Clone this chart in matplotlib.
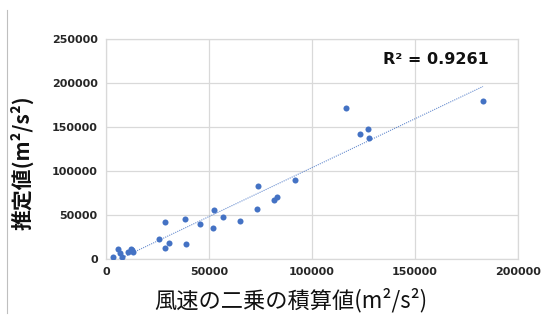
import numpy as np
import matplotlib
matplotlib.use("Agg")
import matplotlib.pyplot as plt
from matplotlib.lines import Line2D

# wind speed squared, integrated (m2/s2) vs. estimated value
wind_sq_sum = [3400, 6000, 6600, 7600, 10800, 12000, 12600, 13300,
               25700, 28500, 28800, 30700, 38500, 38700, 45500, 52100,
               52600, 56800, 65200, 73100, 73600, 81600, 83200, 91900,
               116300, 123500, 127200, 127700, 183000]
estimated = [1500, 10600, 6000, 1500, 8000, 10600, 9800, 8000,
             22700, 12100, 41300, 18200, 45500, 16700, 39400, 35200,
             55700, 47000, 42400, 56800, 83000, 66700, 69700, 89400,
             171600, 141700, 147000, 136700, 179500]
x_ticks = [0, 50000, 100000, 150000, 200000]
y_ticks = [0, 50000, 100000, 150000, 200000, 250000]
r2_text = "R² = 0.9261"

plt.rcParams['font.family'] = ['Noto Sans CJK JP', 'DejaVu Sans']

fig = plt.figure(figsize=(5.41, 3.24), dpi=100)
ax = fig.add_axes([106 / 541, 1 - 258.7 / 324, 412 / 541, 220 / 324])

ax.scatter(wind_sq_sum, estimated, s=19, color='#4472C4', zorder=3, linewidths=0)

# linear trend line over the data range
z = np.polyfit(wind_sq_sum, estimated, 1)
p = np.poly1d(z)
xs = np.array([min(wind_sq_sum), max(wind_sq_sum)])
ax.plot(xs, p(xs), linestyle=(0, (1, 1)), color='#4472C4', lw=0.8, alpha=0.8, zorder=2)

ax.set_xlim(0, 200000)
ax.set_ylim(0, 250000)
ax.set_xticks(x_ticks)
ax.set_yticks(y_ticks)
ax.set_xticklabels([str(t) for t in x_ticks], fontsize=8, fontweight='bold',
                   color='#262626', family='DejaVu Sans')
ax.set_yticklabels([str(t) for t in y_ticks], fontsize=8, fontweight='bold',
                   color='#262626', family='DejaVu Sans')
ax.tick_params(length=0, pad=6)
ax.grid(True, color='#D9D9D9', lw=0.9)
ax.set_axisbelow(True)
for s in ax.spines.values():
    s.set_color('#D9D9D9')
    s.set_linewidth(0.9)

ax.text(383 / 541, 1 - 60 / 324, r2_text, transform=fig.transFigure,
        fontsize=11.5, fontweight='bold', va='center', ha='left',
        color='#111111', family='DejaVu Sans')

fig.text(291 / 541, 1 - 300 / 324, "風速の二乗の積算値(m²/s²)", fontsize=16,
         ha='center', va='center', color='#111111')
fig.text(22 / 541, 1 - 163 / 324, "推定値(m²/s²)", fontsize=15, fontweight='bold',
         rotation=90, ha='center', va='center', color='#111111')

# faint border line at the left edge of the picture
fig.add_artist(Line2D([7 / 541, 7 / 541], [1 - 313 / 324, 1 - 10 / 324],
                      transform=fig.transFigure, color='#BFBFBF', lw=0.8))

fig.savefig("out.png", dpi=100)
